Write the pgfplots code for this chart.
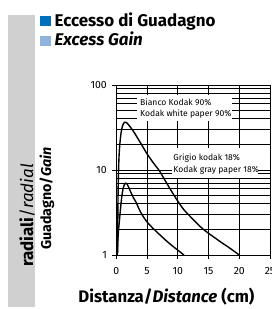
\documentclass[border=0pt]{standalone}
\usepackage{fontspec}
\setmainfont{Fira Sans}
\usepackage{pgfplots}
\pgfplotsset{compat=1.18}
\definecolor{darkblue}{RGB}{0,112,187}
\definecolor{lightblue}{RGB}{142,180,222}
\definecolor{bandgray}{RGB}{208,208,208}
\begin{document}
\begin{tikzpicture}
\begin{scope}[x=1bp,y=-1bp,yshift=309bp]
\fill[bandgray] (8,15) rectangle (35,307);
\fill[darkblue] (40,16) rectangle (50.5,26.5);
\fill[lightblue] (40,36) rectangle (50.5,46.5);
\node[anchor=base west,inner sep=0pt,font=\fontsize{17}{19}\selectfont\bfseries] at (54.5,27) {Eccesso di Guadagno};
\node[anchor=base west,inner sep=0pt,font=\fontsize{17}{19}\selectfont\bfseries\itshape] at (54.5,46) {Excess Gain};
\node[anchor=base west,inner sep=0pt,rotate=90,font=\fontsize{17}{19}\selectfont] at (33,267) {\textbf{radiali}/\textit{radial}};
\node[anchor=base west,inner sep=0pt,rotate=90,font=\fontsize{14.3}{16}\selectfont\bfseries] at (51,250) {Guadagno/\textit{Gain}};
\node[anchor=base west,inner sep=0pt,font=\fontsize{16.8}{19}\selectfont\bfseries] at (78.3,303) {Distanza/\textit{Distance} (cm)};
\end{scope}
\begin{axis}[
  at={(116.3bp,54bp)}, anchor=south west, scale only axis,
  width=153.7bp, height=170bp,
  xmin=0, xmax=25, ymin=1, ymax=100, ymode=log,
  xtick={0,5,10,15,20,25}, xticklabels={0,5,10,15,20,25},
  ytick={1,10,100}, yticklabels={1,10,100},
  xtick pos=bottom, ytick pos=left,
  xmajorgrids, ymajorgrids, yminorgrids,
  grid style={black, line width=0.8bp},
  minor grid style={black, line width=0.8bp},
  axis line style={black, line width=0.8bp},
  tick style={black, line width=0.8bp},
  tick align=outside, major tick length=4bp, minor tick length=0bp,
  ticklabel style={font=\fontsize{10.5}{12}\selectfont},
  xticklabel style={yshift=-5bp},
  yticklabel style={xshift=-2bp},
  /pgf/number format/assume math mode=true,
  clip=false,
]
\addplot[black, line width=1.4bp, smooth, tension=0.5] coordinates {
(0.2,1) (0.25,3) (0.3,6) (0.4,12) (0.5,17) (0.65,23) (0.8,28) (1.0,33) (1.2,35.5) (1.4,36.5) (1.6,36.3) (2.0,34) (2.5,30.5) (3.0,27) (3.5,23.5) (4.0,20.5) (4.5,17.8) (5.0,15.5) (6.0,12.2) (7.0,9.8) (8.0,7.4) (9.0,5.6) (10,4.3) (11,3.4) (12,2.85) (13,2.4) (14,2.05) (15,1.8) (16,1.6) (17,1.42) (18,1.27) (19,1.13) (20,1)
};
\addplot[black, line width=1.4bp, smooth, tension=0.5] coordinates {
(0.15,1) (0.25,1.5) (0.4,2.1) (0.5,2.5) (0.7,3.6) (0.9,4.9) (1.1,6.0) (1.3,6.7) (1.5,7.0) (1.7,6.9) (2.0,6.3) (2.4,5.4) (2.8,4.7) (3.2,4.2) (3.6,3.6) (4.0,3.15) (4.5,2.75) (5.0,2.45) (6,2.05) (7,1.75) (8,1.5) (9,1.3) (10,1.14) (11,1)
};
\end{axis}
\begin{scope}[x=1bp,y=-1bp,yshift=309bp]
\fill[white] (137.3,95) rectangle (232,121);
\fill[white] (171.7,148.5) rectangle (258,178);
\node[anchor=base west,inner sep=0pt,font=\fontsize{8.6}{10}\selectfont] at (140,105.5) {Bianco Kodak 90\%};
\node[anchor=base west,inner sep=0pt,font=\fontsize{8.6}{10}\selectfont] at (140,116.7) {Kodak white paper 90\%};
\node[anchor=base west,inner sep=0pt,font=\fontsize{8.6}{10}\selectfont] at (173.3,160.7) {Grigio kodak 18\%};
\node[anchor=base west,inner sep=0pt,font=\fontsize{8.6}{10}\selectfont] at (173.3,172.3) {Kodak gray paper 18\%};
\end{scope}
\pgfresetboundingbox
\path[use as bounding box] (0,0) rectangle (272bp,309bp);
\end{tikzpicture}
\end{document}
